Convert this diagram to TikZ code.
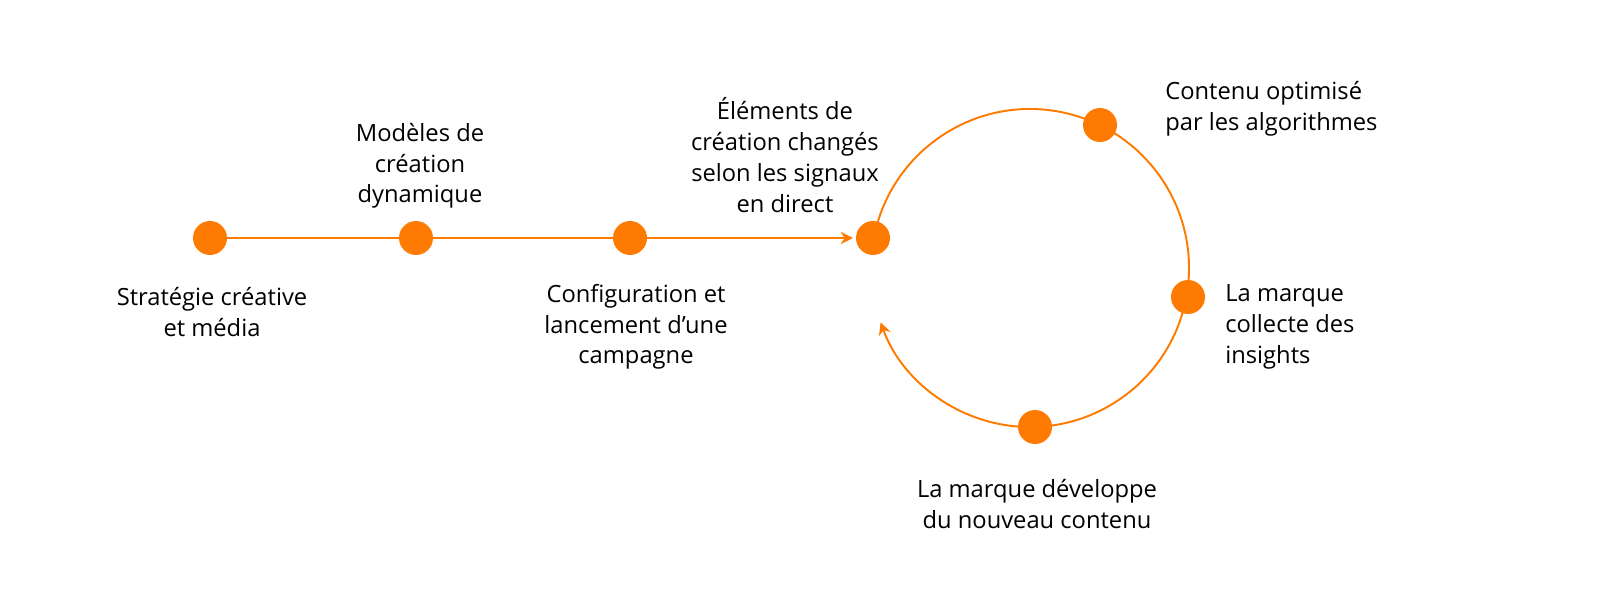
\documentclass[tikz,border=0pt]{standalone}
\usepackage{fontspec}
\setmainfont{Open Sans}
\usetikzlibrary{arrows.meta,calc}
\definecolor{org}{HTML}{FF7A00}
\begin{document}
\begin{tikzpicture}[x=0.02cm,y=-0.02cm,
 dot/.style={circle,fill=org,minimum size=0.68cm,inner sep=0},
 lbl/.style={font=\fontsize{13.5}{17.5}\selectfont,inner sep=0,text=black},
 ln/.style={draw=org,line width=1.1pt}]
\useasboundingbox (0,0) rectangle (1600,594);
\coordinate (c) at (1030,268);
\coordinate (tip) at (853,238);
\coordinate (as) at ($(c)+(191:159)$);
\draw[ln] (210,238) -- (416,238);
\draw[ln] (416,238) -- (630,238);
\draw[ln,-{Stealth[length=7pt,width=7pt]}] (630,238) -- (tip);
\draw[ln,-{Stealth[length=7pt,width=7pt]}] (as) arc[start angle=191,end angle=520,radius=159];
\node[dot] (d1) at (210,238) {};
\node[dot] (d2) at (416,238) {};
\node[dot] (d3) at (630,238) {};
\node[dot] (d4) at (873,238) {};
\node[dot] (d5) at (1100,125) {};
\node[dot] (d6) at (1188,297) {};
\node[dot] (d7) at (1035,427) {};
\node[lbl,align=center] (t1) at (212,312) {Stratégie créative\\et média};
\node[lbl,align=center] (t2) at (420,166) {Modèles de\\création\\dynamique};
\node[lbl,align=center] (t3) at (636,327) {Configuration et\\lancement d'une\\campagne};
\node[lbl,align=center] (t4) at (785,155) {Éléments de\\création changés\\selon les signaux\\en direct};
\node[lbl,align=left,anchor=west] (t5) at (1165,109) {Contenu optimisé\\par les algorithmes};
\node[lbl,align=left,anchor=west] (t6) at (1225,327) {La marque\\collecte des\\insights};
\node[lbl,align=center] (t7) at (1037,504) {La marque développe\\du nouveau contenu};
\end{tikzpicture}
\end{document}
